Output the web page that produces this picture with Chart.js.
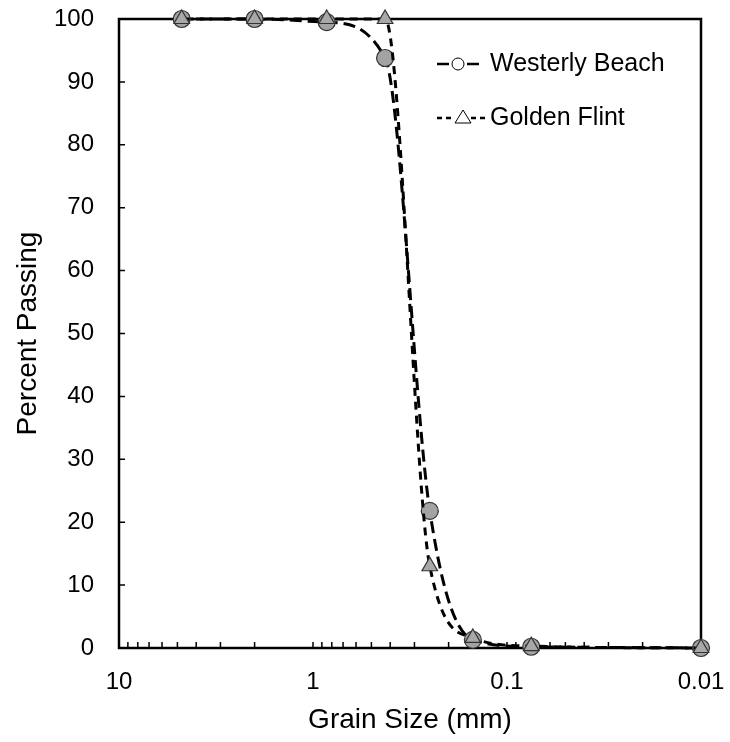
<!DOCTYPE html>
<html>
<head>
<meta charset="utf-8">
<script src="https://cdn.jsdelivr.net/npm/chart.js@4/dist/chart.umd.min.js"></script>
<style>
  body { margin: 0; background: #fff; }
  #wrap { width: 730px; height: 742px; }
</style>
</head>
<body>
<div id="wrap"><canvas id="gradation" width="730" height="742"></canvas></div>
<script>
// sieve sizes (mm) and percent passing
const grainSizes = [4.75, 2.0, 0.85, 0.425, 0.25, 0.15, 0.075, 0.01];
const westerlyBeach = [100, 100, 99.5, 93.8, 21.8, 1.3, 0.2, 0];
const goldenFlint = [100, 100, 100, 100, 13.0, 1.6, 0.3, 0];
const seriesNames = ["Westerly Beach", "Golden Flint"];
const yTicks = [0, 10, 20, 30, 40, 50, 60, 70, 80, 90, 100];
const xDecades = [10, 1, 0.1, 0.01];

const FONT = "'Liberation Sans', Arial, sans-serif";

function toPoints(values) {
  return grainSizes.map((g, i) => ({ x: g, y: values[i] }));
}

function fmtDecade(v) {
  const e = Math.round(Math.log10(v));
  if (Math.abs(Math.log10(v) - e) > 1e-6) return "";
  return e >= 0 ? String(Math.pow(10, e)) : Math.pow(10, e).toFixed(-e);
}

// box, inward ticks and legend
const framePlugin = {
  id: "frame",
  beforeDatasetsDraw(chart) {
    const { ctx, chartArea: a, scales } = chart;
    ctx.save();
    ctx.strokeStyle = "#000";
    ctx.lineWidth = 1.5;
    ctx.beginPath();
    // minor + major ticks on x (pointing up from bottom)
    for (let e = -2; e <= 0; e++) {
      for (let k = 1; k <= 9; k++) {
        const px = scales.x.getPixelForValue(k * Math.pow(10, e));
        ctx.moveTo(px, a.bottom);
        ctx.lineTo(px, a.bottom - 6);
      }
    }
    // y ticks pointing right
    yTicks.forEach((t) => {
      const py = scales.y.getPixelForValue(t);
      ctx.moveTo(a.left, py);
      ctx.lineTo(a.left + 6, py);
    });
    ctx.stroke();
    ctx.lineWidth = 2.5;
    ctx.strokeRect(a.left, a.top, a.right - a.left, a.bottom - a.top);
    ctx.restore();
  },
  afterDraw(chart) {
    const { ctx } = chart;
    ctx.save();
    ctx.strokeStyle = "#000";
    ctx.font = "25px " + FONT;
    ctx.textBaseline = "middle";

    // Westerly Beach
    let y = 64;
    ctx.lineWidth = 2.5;
    ctx.beginPath();
    ctx.moveTo(437, y);
    ctx.lineTo(449, y);
    ctx.moveTo(467, y);
    ctx.lineTo(479, y);
    ctx.stroke();
    ctx.lineWidth = 1;
    ctx.fillStyle = "#fff";
    ctx.beginPath();
    ctx.arc(458, y, 6, 0, Math.PI * 2);
    ctx.fill();
    ctx.stroke();
    ctx.fillStyle = "#000";
    ctx.fillText(seriesNames[0], 490, y);

    // Golden Flint
    y = 118;
    ctx.lineWidth = 2.5;
    ctx.setLineDash([5, 4]);
    ctx.beginPath();
    ctx.moveTo(437, y);
    ctx.lineTo(455, y);
    ctx.moveTo(471, y);
    ctx.lineTo(489, y);
    ctx.stroke();
    ctx.setLineDash([]);
    ctx.lineWidth = 1;
    ctx.fillStyle = "#fff";
    ctx.beginPath();
    ctx.moveTo(463, y - 8);
    ctx.lineTo(471, y + 5);
    ctx.lineTo(455, y + 5);
    ctx.closePath();
    ctx.fill();
    ctx.stroke();
    ctx.fillStyle = "#000";
    ctx.fillText(seriesNames[1], 490, y);
    ctx.restore();
  },
};

new Chart(document.getElementById("gradation"), {
  type: "line",
  data: {
    datasets: [
      {
        label: seriesNames[0],
        data: toPoints(westerlyBeach),
        borderColor: "#000",
        borderWidth: 3,
        borderDash: [12, 6],
        cubicInterpolationMode: "monotone",
        pointStyle: "circle",
        pointRadius: 8.5,
        pointBackgroundColor: "#a3a3a3",
        pointBorderColor: "#333",
        pointBorderWidth: 1.2,
        clip: false,
        order: 2,
      },
      {
        label: seriesNames[1],
        data: toPoints(goldenFlint),
        borderColor: "#000",
        borderWidth: 3,
        borderDash: [8, 6],
        cubicInterpolationMode: "monotone",
        pointStyle: "triangle",
        pointRadius: 9,
        pointBackgroundColor: "#a8a8a8",
        pointBorderColor: "#333",
        pointBorderWidth: 1.2,
        clip: false,
        order: 1,
      },
    ],
  },
  options: {
    responsive: false,
    animation: false,
    layout: { padding: { top: 19, right: 29, left: 0, bottom: 0 } },
    plugins: {
      legend: { display: false },
      tooltip: { enabled: false },
    },
    scales: {
      x: {
        type: "logarithmic",
        reverse: true,
        min: 0.01,
        max: 10,
        afterFit: (s) => {
          s.height = 94;
          s.paddingLeft = 0;
          s.paddingRight = 0;
        },
        afterBuildTicks: (s) => { s.ticks = xDecades.map((v) => ({ value: v })); },
        grid: { drawOnChartArea: false, drawTicks: false },
        border: { display: false },
        ticks: {
          autoSkip: false,
          maxRotation: 0,
          padding: 20,
          color: "#000",
          font: { family: FONT, size: 24 },
          callback: (v) => fmtDecade(v),
        },
        title: {
          display: true,
          text: "Grain Size (mm)",
          color: "#000",
          font: { family: FONT, size: 28 },
          padding: { top: 0, bottom: 5 },
        },
      },
      y: {
        min: 0,
        max: 100,
        afterFit: (s) => {
          s.width = 119;
          s.paddingTop = 0;
          s.paddingBottom = 0;
        },
        afterBuildTicks: (s) => { s.ticks = yTicks.map((v) => ({ value: v })); },
        grid: { drawOnChartArea: false, drawTicks: false },
        border: { display: false },
        ticks: {
          padding: 25,
          color: "#000",
          font: { family: FONT, size: 24 },
        },
        title: {
          display: true,
          text: "Percent Passing",
          color: "#000",
          font: { family: FONT, size: 28 },
          padding: { top: 11, bottom: 0 },
        },
      },
    },
  },
  plugins: [framePlugin],
});
</script>
</body>
</html>
